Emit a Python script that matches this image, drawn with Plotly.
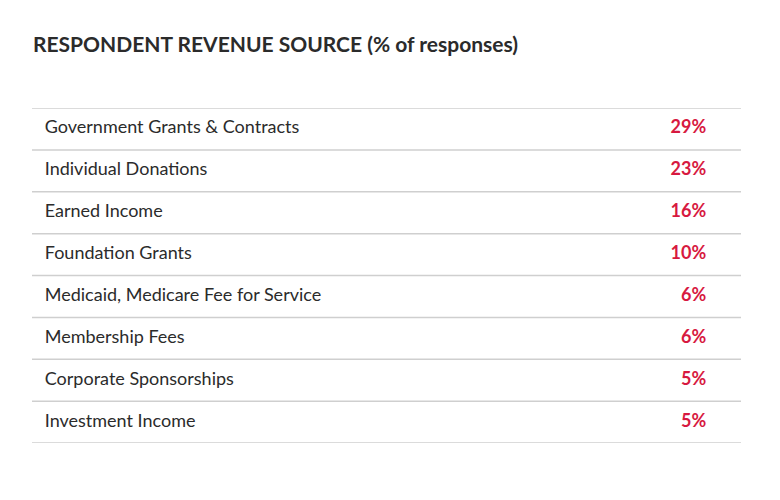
import plotly.graph_objects as go

sources = ["Government Grants & Contracts", "Individual Donations", "Earned Income",
           "Foundation Grants", "Medicaid, Medicare Fee for Service", "Membership Fees",
           "Corporate Sponsorships", "Investment Income"]
shares = [29, 23, 16, 10, 6, 6, 5, 5]

rows = list(range(len(sources)))
fig = go.Figure()
fig.add_trace(go.Scatter(x=[0.018] * len(rows), y=rows, text=sources, mode="text",
                         textposition="middle right",
                         textfont=dict(family="Lato", size=18, color="#2b2b2b"),
                         hoverinfo="skip"))
fig.add_trace(go.Scatter(x=[0.951] * len(rows), y=rows, text=[f"{v}%" for v in shares],
                         mode="text", textposition="middle left",
                         textfont=dict(family="Lato", size=18, color="#d7193f", weight="bold"),
                         hoverinfo="skip"))

# row separators
for i in range(len(rows) + 1):
    fig.add_shape(type="line", xref="paper", x0=0, x1=1, yref="y", y0=i - 0.5, y1=i - 0.5,
                  line=dict(color="#cfcfcf", width=1.5))

fig.update_layout(
    width=780, height=500, showlegend=False,
    plot_bgcolor="white", paper_bgcolor="white",
    margin=dict(l=24, r=47, t=100, b=65),
    title=dict(text="<b>RESPONDENT REVENUE SOURCE (% of responses)</b>",
               x=25 / 780, xanchor="left", y=1 - 37 / 500, yanchor="middle",
               font=dict(family="Lato", size=21, color="#2b2b2b")),
    xaxis=dict(range=[0, 1], visible=False, fixedrange=True),
    yaxis=dict(range=[len(rows) - 0.5, -0.5], visible=False, fixedrange=True),
)

fig.write_html("out.html")
